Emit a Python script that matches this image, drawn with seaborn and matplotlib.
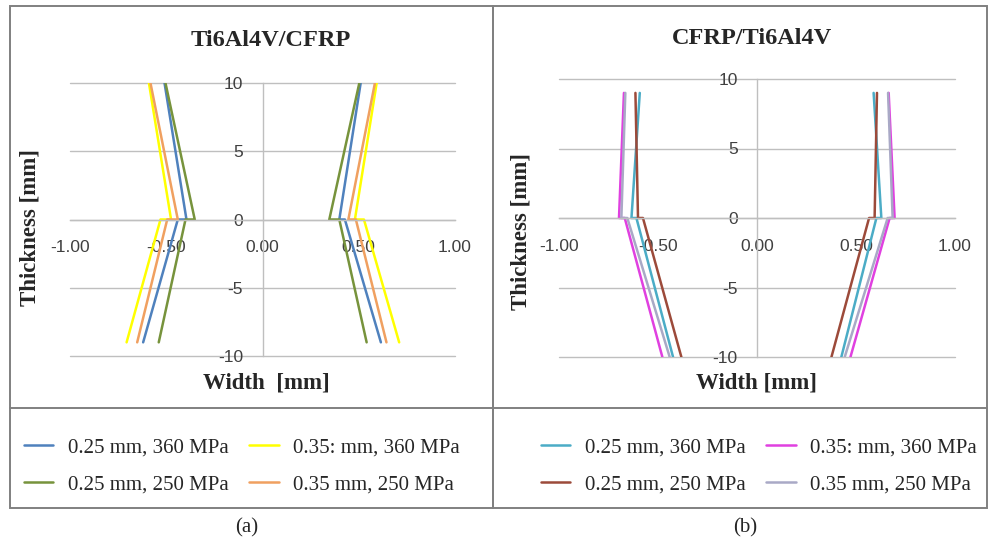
"""Kerbprofil-Vergleich Ti6Al4V/CFRP und CFRP/Ti6Al4V."""

import matplotlib.pyplot as plt
import matplotlib.ticker as mticker
import seaborn as sns

sns.set_theme(style="white")
plt.rcParams["axes.unicode_minus"] = False

SERIF = "Liberation Serif"
SANS = "Liberation Sans"

# --- Daten (a) Ti6Al4V/CFRP -------------------------------------------------
THICK_A = [10, 0, 0, -9]
A_BLUE_NEG = [-0.509, -0.395, -0.44, -0.62]
A_BLUE_POS = [0.51, 0.399, 0.428, 0.615]
A_GREEN_NEG = [-0.504, -0.352, -0.40, -0.539]
A_GREEN_POS = [0.503, 0.347, 0.399, 0.541]
A_YELLOW_NEG = [-0.59, -0.475, -0.53, -0.706]
A_YELLOW_POS = [0.593, 0.48, 0.527, 0.71]
A_ORANGE_NEG = [-0.582, -0.44, -0.495, -0.651]
A_ORANGE_POS = [0.584, 0.446, 0.485, 0.644]

# --- Daten (b) CFRP/Ti6Al4V -------------------------------------------------
THICK_B = [9, 0, 0, -10]
B_TEAL_NEG = [-0.592, -0.634, -0.609, -0.424]
B_TEAL_POS = [0.589, 0.628, 0.603, 0.426]
B_BROWN_NEG = [-0.614, -0.601, -0.576, -0.382]
B_BROWN_POS = [0.606, 0.594, 0.566, 0.376]
B_MAGENTA_NEG = [-0.672, -0.697, -0.668, -0.478]
B_MAGENTA_POS = [0.665, 0.695, 0.670, 0.472]
B_GRAY_NEG = [-0.665, -0.685, -0.655, -0.441]
B_GRAY_POS = [0.662, 0.685, 0.66, 0.443]

LABELS = ["0.25 mm, 360 MPa", "0.25 mm, 250 MPa", "0.35: mm, 360 MPa", "0.35 mm, 250 MPa"]
X_TICKS = [-1.0, -0.5, 0.0, 0.5, 1.0]
Y_TICKS = [-10, -5, 0, 5, 10]

W, H = 989, 547


def px_rect(x0, y0, x1, y1):
    """Pixelbox (oben links Ursprung) -> Figurkoordinaten."""
    return [x0 / W, 1 - y1 / H, (x1 - x0) / W, (y1 - y0) / H]


def style_axes(ax):
    ax.set_xlim(-1, 1)
    ax.set_ylim(-10, 10)
    ax.spines["left"].set_position(("data", 0))
    ax.spines["bottom"].set_position(("data", 0))
    ax.spines["top"].set_visible(False)
    ax.spines["right"].set_visible(False)
    for s in ("left", "bottom"):
        ax.spines[s].set_color("#BFBFBF")
        ax.spines[s].set_linewidth(1.0)
    ax.set_xticks(X_TICKS)
    ax.set_yticks(Y_TICKS)
    ax.xaxis.set_major_formatter(mticker.FormatStrFormatter("%.2f"))
    ax.grid(axis="y", color="#BFBFBF", linewidth=1.0)
    ax.grid(axis="x", visible=False)
    for gl in ax.get_ygridlines():
        gl.set_clip_on(False)
    ax.tick_params(axis="x", direction="out", length=5, width=1, color="#BFBFBF",
                   pad=10, labelsize=12.5, labelcolor="#404040")
    ax.tick_params(axis="y", length=0, pad=14, labelsize=12.5, labelcolor="#404040")
    for lab in ax.get_xticklabels() + ax.get_yticklabels():
        lab.set_family(SANS)
    ax.set_xlabel("")
    ax.set_ylabel("")
    ax.set_facecolor("none")


def draw_series(ax, thick, neg, pos, color, label):
    sns.lineplot(x=neg, y=thick, sort=False, estimator=None, color=color,
                 linewidth=1.8, ax=ax, label=label)
    sns.lineplot(x=pos, y=thick, sort=False, estimator=None, color=color,
                 linewidth=1.8, ax=ax, legend=False)


fig = plt.figure(figsize=(W / 100, H / 100), dpi=100)
fig.patch.set_facecolor("white")

ax_a = fig.add_axes(px_rect(70, 83, 455, 356))
ax_b = fig.add_axes(px_rect(559, 79, 955, 357))

series_a = [
    (A_BLUE_NEG, A_BLUE_POS, "#4F81BD"),
    (A_GREEN_NEG, A_GREEN_POS, "#77933C"),
    (A_YELLOW_NEG, A_YELLOW_POS, "#FFFF00"),
    (A_ORANGE_NEG, A_ORANGE_POS, "#F0A060"),
]
series_b = [
    (B_TEAL_NEG, B_TEAL_POS, "#4BACC6"),
    (B_BROWN_NEG, B_BROWN_POS, "#9C4A3A"),
    (B_MAGENTA_NEG, B_MAGENTA_POS, "#E040E0"),
    (B_GRAY_NEG, B_GRAY_POS, "#A9A9C6"),
]

legend_data = {}
for ax, thick, series in ((ax_a, THICK_A, series_a), (ax_b, THICK_B, series_b)):
    for (neg, pos, color), label in zip(series, LABELS):
        draw_series(ax, thick, neg, pos, color, label)
    legend_data[ax] = ax.get_legend_handles_labels()
    if ax.get_legend():
        ax.get_legend().remove()
    style_axes(ax)

# Rahmen
frame_kw = dict(fill=False, edgecolor="#808080", linewidth=1.4, transform=fig.transFigure)
for x0, x1 in ((10, 493), (493, 987)):
    fig.add_artist(plt.Rectangle(px_rect(x0, 6, x1, 508)[:2], (x1 - x0) / W, 502 / H, **frame_kw))
    fig.add_artist(plt.Line2D([x0 / W, x1 / W], [1 - 408 / H] * 2, color="#808080",
                              linewidth=1.4, transform=fig.transFigure))

# Titel und Achsenbeschriftungen
title_kw = dict(family=SERIF, weight="bold", fontsize=17.5, ha="center", va="center")
label_kw = dict(family=SERIF, weight="bold", fontsize=16.5, ha="center", va="center")
fig.text(271 / W, 1 - 41 / H, "Ti6Al4V/CFRP", **title_kw)
fig.text(752 / W, 1 - 38 / H, "CFRP/Ti6Al4V", **title_kw)
fig.text(30 / W, 1 - 228 / H, "Thickness [mm]", rotation=90, **label_kw)
fig.text(521 / W, 1 - 232 / H, "Thickness [mm]", rotation=90, **label_kw)
fig.text(266 / W, 1 - 383 / H, "Width  [mm]", **label_kw)
fig.text(757 / W, 1 - 383 / H, "Width [mm]", **label_kw)

# Legenden
for ax, cx in ((ax_a, 242), (ax_b, 759)):
    handles, labels = legend_data[ax]
    fig.legend(handles, labels, ncol=2, loc="center", bbox_to_anchor=(cx / W, 1 - 466 / H),
               frameon=False, prop={"family": SERIF, "size": 15}, handlelength=1.4,
               handletextpad=0.7, columnspacing=1.0, labelspacing=0.85)

fig.text(247 / W, 1 - 528 / H, "(a)", family=SERIF, fontsize=15, ha="center", va="center")
fig.text(745 / W, 1 - 528 / H, "(b)", family=SERIF, fontsize=15, ha="center", va="center")

fig.savefig("out.png", dpi=100)
plt.close(fig)
